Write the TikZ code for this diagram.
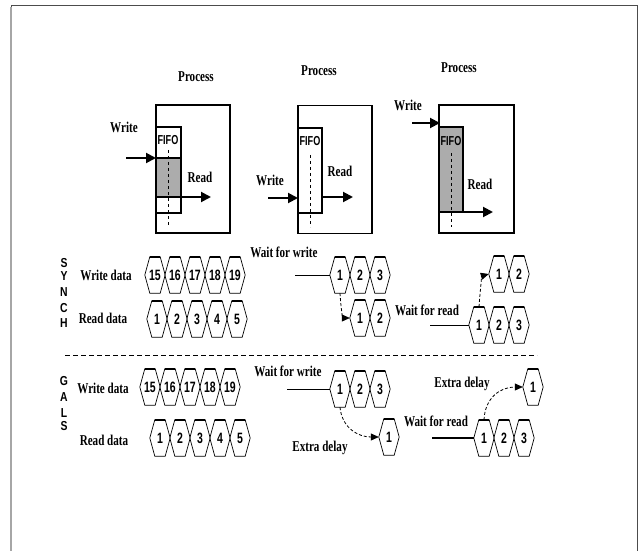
\documentclass[tikz,border=0pt]{standalone}
\usepackage{fontspec}
\setmainfont{Liberation Serif}
\setsansfont{Liberation Sans}
\usetikzlibrary{arrows.meta,calc}
\newcommand\nar[2][0.74]{\scalebox{#1}[1]{#2}}
\newcommand\hexcell[3]{%
  \node[hexcell] (#1) at (#2) {\nar[0.7]{#3}};
  \draw[hexedge] (#1.west) -- ([xshift=5pt]#1.north west) -- ([xshift=-5pt]#1.north east) -- (#1.east)
     -- ([xshift=-5pt]#1.south east) -- ([xshift=5pt]#1.south west) -- cycle;
  \draw[hextop] ([xshift=5pt]#1.north west) -- ([xshift=-5pt]#1.north east);
}
\begin{document}
\begin{tikzpicture}[x=1pt,y=-1pt,
  lbl/.style={font=\fontsize{15}{15}\selectfont\bfseries, inner sep=0},
  sflbl/.style={font=\fontsize{13}{13}\selectfont\sffamily\bfseries, inner sep=0},
  procbox/.style={draw, line width=1.2pt, inner sep=0, minimum height=128pt},
  bigarrow/.style={line width=2pt, -{Triangle[length=10pt,width=10pt]}},
  hexcell/.style={inner sep=0, minimum width=20pt, minimum height=36pt,
     font=\fontsize{15}{15}\selectfont\sffamily\bfseries},
  hexedge/.style={line width=0.7pt, line join=miter},
  hextop/.style={line width=1.8pt},
  dasharrow/.style={densely dashed, line width=0.8pt, -{Triangle[length=8pt,width=7pt]}},
  fifoline/.style={line width=1.1pt},
  vdash/.style={dashed, line width=0.6pt},
]
\useasboundingbox (0,0) rectangle (641,551);
% frame
\draw[gray!60!black, line width=1pt] (11,551) -- (11,6) -- (637,6) -- (637,551);
\draw[gray!70, line width=2.5pt] (11,7) -- (11,551);

% ---------- Process 1
\node[lbl] (t1) at (196,77) {\nar{Process}};
\node[procbox, minimum width=74pt] (p1) at (193,169) {};
\fill[gray!65] (156,158) rectangle (181,197);
\draw[fifoline] (156,127) rectangle (181,213);
\draw[line width=2pt] (156,158) -- (181,158);
\draw[line width=2pt] (156,197) -- (181,197);
\draw[vdash] (168,150) -- (168,227);
\node[sflbl] (ff1) at (168,140) {\nar[0.7]{FIFO}};
\coordinate (w1s) at (126,158); \coordinate (w1e) at (156,158);
\draw[bigarrow] (w1s) -- (w1e);
\node[lbl] (wl1) at (124,127) {\nar{Write}};
\coordinate (r1s) at (181,197); \coordinate (r1e) at (211,197);
\draw[bigarrow] (r1s) -- (r1e);
\node[lbl] (rl1) at (200,177) {\nar{Read}};

% ---------- Process 2
\node[lbl] (t2) at (319,71) {\nar{Process}};
\node[procbox, minimum width=74pt] (p2) at (335,169.5) {};
\draw[fifoline] (298,128) rectangle (322,213);
\draw[line width=2pt] (298,128) -- (322,128);
\draw[line width=2pt] (298,213) -- (322,213);
\draw[vdash, line width=1pt] (310,155) -- (310,227);
\node[sflbl] (ff2) at (310,141) {\nar[0.7]{FIFO}};
\coordinate (w2s) at (268,198); \coordinate (w2e) at (298,198);
\draw[bigarrow] (w2s) -- (w2e);
\node[lbl] (wl2) at (270,180) {\nar{Write}};
\coordinate (r2s) at (322,197); \coordinate (r2e) at (353,197);
\draw[bigarrow] (r2s) -- (r2e);
\node[lbl] (rl2) at (340,171) {\nar{Read}};

% ---------- Process 3
\node[lbl] (t3) at (459,68) {\nar{Process}};
\node[procbox, minimum width=75pt] (p3) at (476.5,169) {};
\draw[line width=2.2pt] (439,105) -- (514,105);
\fill[gray!65] (439,127) rectangle (463,212);
\draw[fifoline] (439,127) rectangle (463,212);
\draw[line width=2pt] (439,127) -- (463,127);
\draw[line width=1.8pt] (463,127) -- (463,212);
\draw[vdash] (451,153) -- (451,227);
\node[sflbl] (ff3) at (451,141) {\nar[0.7]{FIFO}};
\coordinate (w3s) at (412,123); \coordinate (w3e) at (440,123);
\draw[bigarrow] (w3s) -- (w3e);
\node[lbl] (wl3) at (408,105) {\nar{Write}};
\coordinate (r3s) at (439,212); \coordinate (r3e) at (493,212);
\draw[bigarrow] (r3s) -- (r3e);
\node[lbl] (rl3) at (480,184) {\nar{Read}};

% ---------- SYNCH
\node[sflbl] (sS) at (64,263) {\nar[0.8]{S}};
\node[sflbl] (sY) at (64,276) {\nar[0.8]{Y}};
\node[sflbl] (sN) at (64,292) {\nar[0.8]{N}};
\node[sflbl] (sC) at (64,308) {\nar[0.8]{C}};
\node[sflbl] (sH) at (64,323) {\nar[0.8]{H}};
\node[lbl] (swd) at (106,275) {\nar{Write data}};
\node[lbl] (srd) at (103,318) {\nar{Read data}};
\foreach \t [count=\i] in {15,16,17,18,19} {\hexcell{sw\i}{135+20*\i,275}{\t}}
\foreach \t [count=\i] in {1,2,3,4,5} {\hexcell{sr\i}{137+20*\i,319}{\t}}

\node[lbl] (swfw) at (284,252) {\nar{Wait for write}};
\coordinate (swl) at (295,275);
\foreach \t [count=\i] in {1,2,3} {\hexcell{mu\i}{320+20*\i,275}{\t}}
\foreach \t [count=\i] in {1,2} {\hexcell{ml\i}{340+20*\i,318}{\t}}
\draw[line width=0.8pt] (swl) -- (mu1.west);
\draw[dasharrow] (mu1.south) .. controls (341,310) and (343,318) .. (ml1.west);

\node[lbl] (swfr) at (427,310) {\nar{Wait for read}};
\coordinate (srl) at (430,325);
\foreach \t [count=\i] in {1,2,3} {\hexcell{rl\i}{459+20*\i,325}{\t}}
\foreach \t [count=\i] in {1,2} {\hexcell{ru\i}{479+20*\i,274}{\t}}
\draw[line width=0.8pt] (srl) -- (rl1.west);
\draw[dasharrow] (rl1.north) .. controls (480,292) and (482,276) .. (ru1.west);

% separator
\draw[dash pattern=on 5pt off 3pt, line width=0.8pt] (65,355) -- (537,355);

% ---------- GALS
\node[sflbl] (gG) at (64,381) {\nar[0.8]{G}};
\node[sflbl] (gA) at (64,397) {\nar[0.8]{A}};
\node[sflbl] (gL) at (64,413) {\nar[0.8]{L}};
\node[sflbl] (gS) at (64,426) {\nar[0.8]{S}};
\node[lbl] (gwd) at (103,388) {\nar{Write data}};
\node[lbl] (grd) at (104,440) {\nar{Read data}};
\foreach \t [count=\i] in {15,16,17,18,19} {\hexcell{gw\i}{130+20*\i,387}{\t}}
\foreach \t [count=\i] in {1,2,3,4,5} {\hexcell{gr\i}{140+20*\i,438}{\t}}

\node[lbl] (gwfw) at (288,371) {\nar{Wait for write}};
\coordinate (gwl) at (287,389);
\foreach \t [count=\i] in {1,2,3} {\hexcell{gu\i}{320+20*\i,389}{\t}}
\hexcell{gl1}{389,437}{1}
\draw[line width=0.8pt] (gwl) -- (gu1.west);
\draw[dasharrow] (gu1.south) .. controls (342,428) and (358,437) .. (gl1.west);
\node[lbl] (ged1) at (320,448) {\nar{Extra delay}};

\node[lbl] (ged2) at (462,384) {\nar{Extra delay}};
\node[lbl] (gwfr) at (436,421) {\nar{Wait for read}};
\coordinate (grl) at (432,438);
\foreach \t [count=\i] in {1,2,3} {\hexcell{gq\i}{464+20*\i,438}{\t}}
\hexcell{gv1}{533,387}{1}
\draw[line width=1.6pt] (grl) -- (gq1.west);
\draw[dasharrow] (gq1.north) .. controls (485,398) and (500,387) .. (gv1.west);
\end{tikzpicture}
\end{document}
